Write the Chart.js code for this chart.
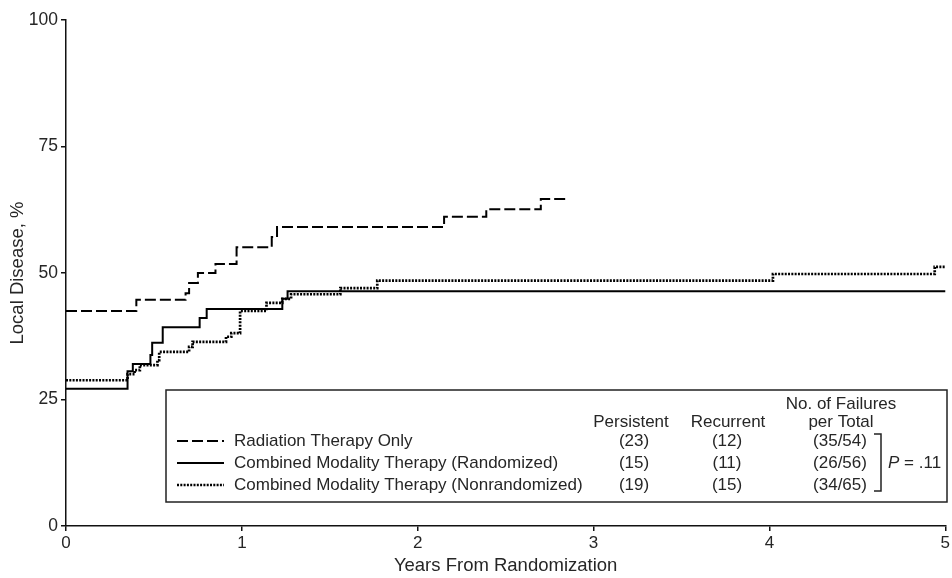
<!DOCTYPE html>
<html>
<head>
    <title>Local Disease</title>
    <script src="https://cdn.jsdelivr.net/npm/chart.js"></script>
    <style>
        body { margin: 0; background: #fff; }
        #wrap { width: 952px; height: 578px; }
    </style>
</head>
<body>
    <div id="wrap"><canvas id="kmChart"></canvas></div>

    <script>
        // series: time in years, cumulative local disease %
        const radYears = [0, 0.40, 0.68, 0.70, 0.75, 0.85, 0.97, 1.17, 1.20, 2.15, 2.39, 2.70, 2.85];
        const radPct   = [42.5, 44.7, 46.0, 48.0, 50.0, 51.8, 55.1, 57.1, 59.1, 61.1, 62.6, 64.6, 64.6];

        const randYears = [0, 0.35, 0.38, 0.48, 0.49, 0.55, 0.76, 0.80, 1.23, 1.26, 5.0];
        const randPct   = [27.1, 30.6, 32.0, 33.8, 36.2, 39.3, 41.1, 42.9, 44.9, 46.4, 46.4];

        const nonrandYears = [0, 0.35, 0.39, 0.42, 0.52, 0.53, 0.70, 0.72, 0.91, 0.94, 0.99, 1.14, 1.23, 1.28, 1.56, 1.77, 4.02, 4.94, 5.0];
        const nonrandPct   = [28.8, 30.0, 30.8, 31.8, 32.8, 34.4, 35.4, 36.4, 37.4, 38.1, 42.5, 44.1, 44.9, 45.8, 47.0, 48.5, 49.8, 51.2, 51.2];

        // legend table
        const groupNames = ['Radiation Therapy Only', 'Combined Modality Therapy (Randomized)', 'Combined Modality Therapy (Nonrandomized)'];
        const persistent = ['(23)', '(15)', '(19)'];
        const recurrent  = ['(12)', '(11)', '(15)'];
        const failures   = ['(35/54)', '(26/56)', '(34/65)'];
        const pValue = '.11';

        const xTicks = [0, 1, 2, 3, 4, 5];
        const yTicks = [0, 25, 50, 75, 100];

        const FONT = 'Liberation Sans, Arial, sans-serif';
        const TEXT = '#262626';

        const pts = (xs, ys) => xs.map((x, i) => ({ x: x, y: ys[i] }));

        const styles = [
            { dash: [11, 4], width: 2 },
            { dash: [], width: 2 },
            { dash: [2, 1.3], width: 2.7 }
        ];

        // legend box drawn on top of the plot
        const legendBox = {
            id: 'legendBox',
            afterDraw(chart) {
                const ctx = chart.ctx;
                const L = 166, T = 390, R = 947, B = 502;
                ctx.save();
                ctx.fillStyle = '#fff';
                ctx.fillRect(L, T, R - L, B - T);
                ctx.strokeStyle = '#222';
                ctx.lineWidth = 1.5;
                ctx.strokeRect(L, T, R - L, B - T);

                ctx.font = '17px ' + FONT;
                ctx.fillStyle = TEXT;
                ctx.textBaseline = 'middle';
                ctx.textAlign = 'center';
                ctx.fillText('No. of Failures', 841, 404);
                ctx.fillText('Persistent', 631, 422);
                ctx.fillText('Recurrent', 728, 422);
                ctx.fillText('per Total', 841, 422);

                const rows = [441, 463, 485];
                chart.data.datasets.forEach((ds, i) => {
                    const y = rows[i];
                    ctx.strokeStyle = '#000';
                    ctx.lineWidth = ds.borderWidth;
                    ctx.setLineDash(ds.borderDash || []);
                    ctx.beginPath();
                    ctx.moveTo(177, y);
                    ctx.lineTo(224, y);
                    ctx.stroke();
                    ctx.setLineDash([]);

                    ctx.textAlign = 'left';
                    ctx.fillText(groupNames[i], 234, y);
                    ctx.textAlign = 'center';
                    ctx.fillText(persistent[i], 634, y);
                    ctx.fillText(recurrent[i], 727, y);
                    ctx.fillText(failures[i], 840, y);
                });

                // bracket
                ctx.strokeStyle = '#222';
                ctx.lineWidth = 1.5;
                ctx.beginPath();
                ctx.moveTo(874, 434);
                ctx.lineTo(881, 434);
                ctx.lineTo(881, 491);
                ctx.lineTo(874, 491);
                ctx.stroke();

                ctx.textAlign = 'left';
                ctx.font = 'italic 17px ' + FONT;
                ctx.fillText('P', 888, 463);
                const pw = ctx.measureText('P').width;
                ctx.font = '17px ' + FONT;
                ctx.fillText(' = ' + pValue, 888 + pw, 463);
                ctx.restore();
            }
        };

        new Chart(document.getElementById('kmChart'), {
            type: 'line',
            data: {
                datasets: [
                    { label: groupNames[0], data: pts(radYears, radPct) },
                    { label: groupNames[1], data: pts(randYears, randPct) },
                    { label: groupNames[2], data: pts(nonrandYears, nonrandPct) }
                ].map((d, i) => Object.assign(d, {
                    stepped: true,
                    borderColor: '#000',
                    borderWidth: styles[i].width,
                    borderDash: styles[i].dash,
                    pointRadius: 0,
                    fill: false,
                    clip: false
                }))
            },
            options: {
                responsive: true,
                maintainAspectRatio: false,
                animation: false,
                layout: { padding: { left: 0, top: 20, right: 6, bottom: 0 } },
                plugins: { legend: { display: false }, tooltip: { enabled: false } },
                scales: {
                    x: {
                        type: 'linear',
                        min: 0, max: 5,
                        afterFit: s => { s.height = 52; },
                        afterBuildTicks: s => { s.ticks = xTicks.map(v => ({ value: v })); },
                        border: { display: true, color: '#111', width: 1.5 },
                        grid: { drawOnChartArea: false, drawTicks: true, tickLength: 5, color: '#111', lineWidth: 1.5 },
                        ticks: { color: TEXT, font: { family: FONT, size: 17 }, padding: 2, maxRotation: 0 },
                        title: { display: true, text: 'Years From Randomization', color: TEXT,
                                 font: { family: FONT, size: 18.5 }, padding: { top: 0, bottom: 1 } }
                    },
                    y: {
                        min: 0, max: 100,
                        afterFit: s => { s.width = 66; },
                        afterBuildTicks: s => { s.ticks = yTicks.map(v => ({ value: v })); },
                        border: { display: true, color: '#111', width: 1.5 },
                        grid: { drawOnChartArea: false, drawTicks: true, tickLength: 5, color: '#111', lineWidth: 1.5 },
                        ticks: { color: TEXT, font: { family: FONT, size: 17.5 }, padding: 3 },
                        title: { display: true, text: 'Local Disease, %', color: TEXT,
                                 font: { family: FONT, size: 18.5 }, padding: { top: 7, bottom: 0 } }
                    }
                }
            },
            plugins: [legendBox]
        });
    </script>
</body>
</html>
